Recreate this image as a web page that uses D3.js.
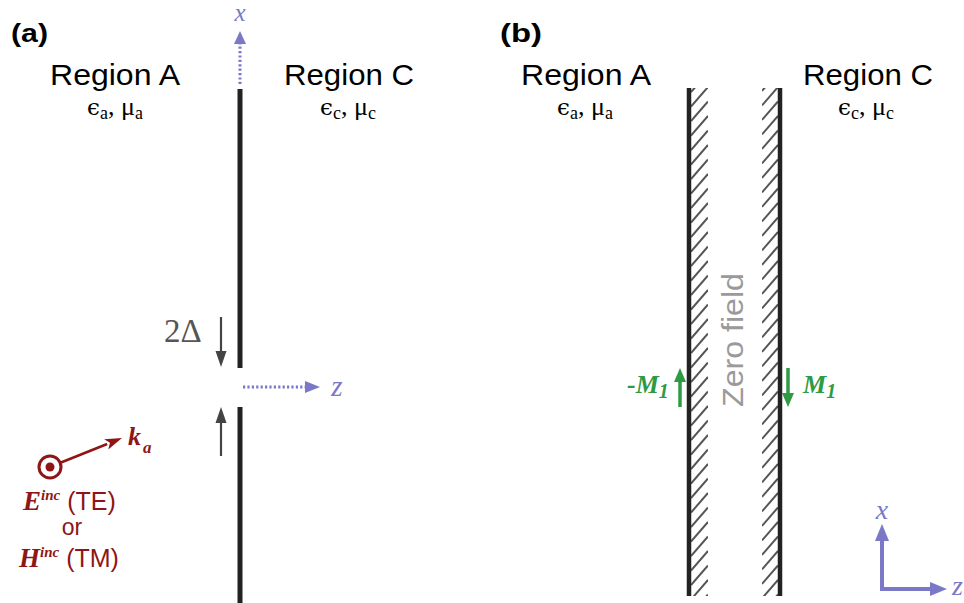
<!DOCTYPE html>
<html>
<head>
<meta charset="utf-8">
<script src="https://cdn.jsdelivr.net/npm/d3@7"></script>
<style>
  body { margin: 0; background: #fff; }
  text { font-kerning: normal; }
</style>
</head>
<body>
<svg id="fig" width="964" height="603"></svg>
<script>
// ---- labels and symbols -------------------------------------------------
const panelLabels   = ["(a)", "(b)"];
const regionNames   = ["Region A", "Region C"];
const regionSubs    = ["a", "c"];
const axisNames     = ["x", "z"];
const gapLabel      = "2\u0394";
const waveVector    = ["k", "a"];
const incidentLines = [["E", "inc", " (TE)"], ["H", "inc", " (TM)"]];
const orLabel       = "or";
const currentNames  = ["-M", "M"];
const currentSub    = "1";
const gapRegionText = "Zero field";

// ---- palette ------------------------------------------------------------
const C = {
  purple: "#7b78c8",
  red: "#8e1616",
  green: "#2f9a44",
  wall: "#222222",
  hatch: "#555555",
  gray: "#555555",
  arrowGray: "#444444",
  zero: "#9a9a9a"
};
const SANS = "'Liberation Sans', Arial, Helvetica, sans-serif";
const SERIF = "'Liberation Serif', 'Times New Roman', 'DejaVu Serif', serif";
const GREEK = "'DejaVu Serif', serif";

const svg = d3.select("#fig");

// arrow: shaft from (x1,y1) to the base of a triangular head whose tip is at (x2,y2)
function arrow(g, x1, y1, x2, y2, o) {
  const dx = x2 - x1, dy = y2 - y1, L = Math.hypot(dx, dy);
  const ux = dx / L, uy = dy / L, px = -uy, py = ux;
  const hl = o.headLen, hw = o.headWid / 2;
  const bx = x2 - ux * hl, by = y2 - uy * hl;
  g.append("line")
    .attr("x1", x1).attr("y1", y1)
    .attr("x2", bx + ux * 1).attr("y2", by + uy * 1)
    .attr("stroke", o.color).attr("stroke-width", o.width)
    .attr("stroke-dasharray", o.dash || null);
  const notch = o.notch || 0;
  const pts = [
    [x2, y2],
    [bx + px * hw, by + py * hw],
    [bx + ux * notch, by + uy * notch],
    [bx - px * hw, by - py * hw]
  ];
  g.append("path").attr("d", d3.line()(pts) + "Z").attr("fill", o.color);
}

// ===================== panel (a): slit in a thin screen =====================
const a = svg.append("g");

a.append("text").text(panelLabels[0])
  .attr("x", 11).attr("y", 42)
  .attr("font-family", SANS).attr("font-weight", "bold").attr("font-size", 26)
  .attr("textLength", 37).attr("lengthAdjust", "spacingAndGlyphs");

// screen halves above and below the gap
const screenX = 240;
a.append("line").attr("x1", screenX).attr("x2", screenX).attr("y1", 89).attr("y2", 368)
  .attr("stroke", C.wall).attr("stroke-width", 5);
a.append("line").attr("x1", screenX).attr("x2", screenX).attr("y1", 407).attr("y2", 603)
  .attr("stroke", C.wall).attr("stroke-width", 5);

// coordinate axes through the gap
arrow(a, screenX, 84, screenX, 31, { color: C.purple, width: 3, dash: "2.2,2.2", headLen: 13, headWid: 12 });
arrow(a, 243, 387, 320, 387, { color: C.purple, width: 3, dash: "2.2,2.2", headLen: 15, headWid: 12 });

a.append("text").text(axisNames[0])
  .attr("x", 240).attr("y", 21).attr("text-anchor", "middle")
  .attr("font-family", SERIF).attr("font-style", "italic").attr("font-size", 25)
  .attr("fill", C.purple);
a.append("text").text(axisNames[1])
  .attr("x", 337).attr("y", 396).attr("text-anchor", "middle")
  .attr("font-family", SERIF).attr("font-style", "italic").attr("font-size", 29)
  .attr("fill", C.purple);

// gap width marker
arrow(a, 221, 317, 221, 367, { color: C.arrowGray, width: 2.2, headLen: 16, headWid: 11 });
arrow(a, 221, 456, 221, 407, { color: C.arrowGray, width: 2.2, headLen: 16, headWid: 11 });
a.append("text").text(gapLabel)
  .attr("x", 164).attr("y", 342)
  .attr("font-family", SERIF).attr("font-size", 33).attr("fill", C.gray);

// region titles and material parameters (both panels share the layout)
function regionLabels(g, cx, name, sub, paramCx) {
  g.append("text").text(name)
    .attr("x", cx).attr("y", 85).attr("text-anchor", "middle")
    .attr("font-family", SANS).attr("font-size", 29)
    .attr("textLength", 130).attr("lengthAdjust", "spacingAndGlyphs");
  const t = g.append("text")
    .attr("x", paramCx).attr("y", 115).attr("text-anchor", "middle")
    .attr("font-family", SERIF).attr("font-size", 26);
  t.append("tspan").text("\u03f5").attr("font-family", GREEK).attr("font-size", 23);
  t.append("tspan").text(sub).attr("font-size", 18).attr("dy", 4);
  t.append("tspan").text(", \u03bc").attr("dy", -4);
  t.append("tspan").text(sub).attr("font-size", 18).attr("dy", 4);
}
regionLabels(a, 115, regionNames[0], regionSubs[0], 115);
regionLabels(a, 349, regionNames[1], regionSubs[1], 348);

// incident wave: out-of-plane field and wave vector
a.append("circle").attr("cx", 50).attr("cy", 467).attr("r", 11)
  .attr("fill", "none").attr("stroke", C.red).attr("stroke-width", 3);
a.append("circle").attr("cx", 50).attr("cy", 467).attr("r", 4.5).attr("fill", C.red);
arrow(a, 61, 462.5, 122, 438, { color: C.red, width: 2.6, headLen: 17, headWid: 11, notch: 4 });

const kt = a.append("text").attr("x", 128).attr("y", 445)
  .attr("font-family", SERIF).attr("font-weight", "bold").attr("font-style", "italic")
  .attr("font-size", 26).attr("fill", C.red);
kt.append("tspan").text(waveVector[0]);
kt.append("tspan").text(waveVector[1]).attr("font-size", 17).attr("dy", 8).attr("dx", 2);

incidentLines.forEach((parts, i) => {
  const y = i === 0 ? 510 : 567;
  const x = i === 0 ? 23 : 19;
  const t = a.append("text").attr("x", x).attr("y", y).attr("fill", C.red);
  t.append("tspan").text(parts[0])
    .attr("font-family", SERIF).attr("font-weight", "bold").attr("font-style", "italic")
    .attr("font-size", 27);
  t.append("tspan").text(parts[1])
    .attr("font-family", SERIF).attr("font-weight", "bold").attr("font-style", "italic")
    .attr("font-size", 15).attr("dy", -10);
  t.append("tspan").text(parts[2])
    .attr("font-family", SANS).attr("font-size", 25).attr("dy", 10);
});
a.append("text").text(orLabel)
  .attr("x", 72).attr("y", 535).attr("text-anchor", "middle")
  .attr("font-family", SANS).attr("font-size", 23).attr("fill", C.red);

// ===================== panel (b): equivalent magnetic currents =============
const b = svg.append("g");

b.append("text").text(panelLabels[1])
  .attr("x", 500).attr("y", 42)
  .attr("font-family", SANS).attr("font-weight", "bold").attr("font-size", 26)
  .attr("textLength", 42).attr("lengthAdjust", "spacingAndGlyphs");

regionLabels(b, 586, regionNames[0], regionSubs[0], 585);
regionLabels(b, 868, regionNames[1], regionSubs[1], 866);

const wallTop = 88, wallBot = 596;
const hatchBands = [[691, 708], [762, 778]];
const defs = svg.append("defs");
hatchBands.forEach((band, i) => {
  defs.append("clipPath").attr("id", "hb" + i)
    .append("rect").attr("x", band[0]).attr("y", wallTop)
    .attr("width", band[1] - band[0]).attr("height", wallBot - wallTop);
  const hg = b.append("g").attr("clip-path", `url(#hb${i})`);
  const w = band[1] - band[0];
  hg.selectAll("line").data(d3.range(wallTop - 30, wallBot + 30, 14.5)).join("line")
    .attr("x1", band[0]).attr("y1", d => d + w * 1.15)
    .attr("x2", band[1]).attr("y2", d => d)
    .attr("stroke", C.hatch).attr("stroke-width", 2);
});
[689, 780].forEach(x => {
  b.append("line").attr("x1", x).attr("x2", x).attr("y1", wallTop).attr("y2", wallBot)
    .attr("stroke", C.wall).attr("stroke-width", 4.5);
});

b.append("text").text(gapRegionText)
  .attr("transform", "translate(743,340) rotate(-90)")
  .attr("text-anchor", "middle")
  .attr("font-family", SANS).attr("font-size", 29).attr("fill", C.zero)
  .attr("textLength", 134).attr("lengthAdjust", "spacingAndGlyphs");

// magnetic current arrows on each wall
arrow(b, 680, 407, 680, 368, { color: C.green, width: 3.5, headLen: 14, headWid: 12 });
arrow(b, 788, 368, 788, 407, { color: C.green, width: 3.5, headLen: 14, headWid: 12 });
[[627, currentNames[0]], [803, currentNames[1]]].forEach(([x, name]) => {
  const t = b.append("text").attr("x", x).attr("y", 393)
    .attr("font-family", SERIF).attr("font-weight", "bold").attr("font-style", "italic")
    .attr("font-size", 26).attr("fill", C.green);
  t.append("tspan").text(name);
  t.append("tspan").text(currentSub).attr("font-size", 20).attr("dy", 5);
});

// orientation key
arrow(b, 882, 591, 882, 524, { color: C.purple, width: 4, headLen: 17, headWid: 14 });
arrow(b, 880, 589, 947, 589, { color: C.purple, width: 4, headLen: 17, headWid: 14 });
b.append("text").text(axisNames[0])
  .attr("x", 882).attr("y", 519).attr("text-anchor", "middle")
  .attr("font-family", SERIF).attr("font-style", "italic").attr("font-size", 28)
  .attr("fill", C.purple);
b.append("text").text(axisNames[1])
  .attr("x", 952).attr("y", 595)
  .attr("font-family", SERIF).attr("font-style", "italic").attr("font-size", 28)
  .attr("fill", C.purple);
</script>
</body>
</html>
